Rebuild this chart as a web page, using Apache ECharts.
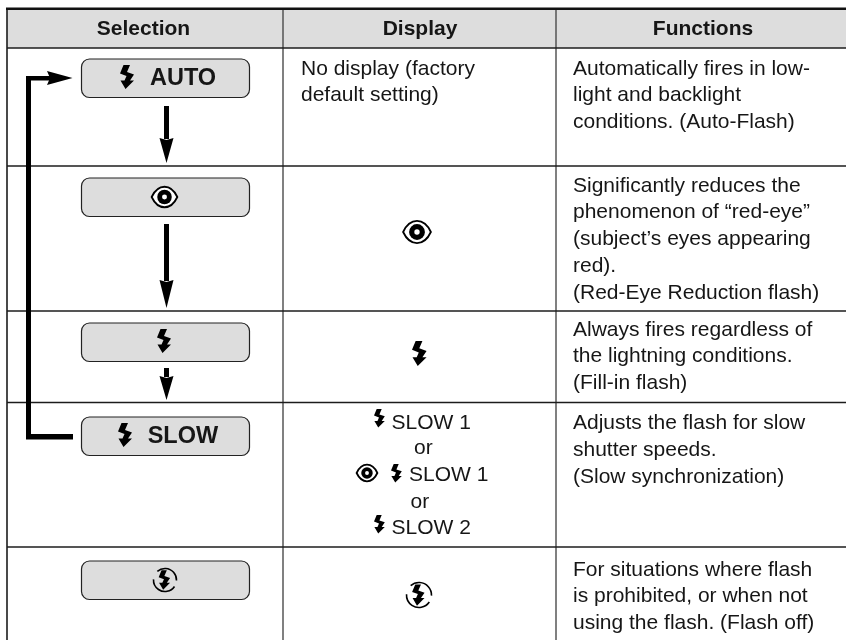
<!DOCTYPE html>
<html><head><meta charset="utf-8">
<style>html,body{margin:0;padding:0;background:#fff}#c{width:846px;height:640px}</style>
<script src="https://cdn.jsdelivr.net/npm/echarts@6/dist/echarts.min.js"></script>
</head><body><div id="c"></div>
<script>
// ---- content ----
const headers = ['Selection', 'Display', 'Functions'];
const selectionLabels = ['AUTO', '', '', 'SLOW', ''];
const displayText = [['No display (factory', 'default setting)'], ['or'], ['or'], ['SLOW 1'], ['SLOW 1'], ['SLOW 2']];
const functionLines = [
  ['Automatically fires in low-', 'light and backlight', 'conditions. (Auto-Flash)'],
  ['Significantly reduces the', 'phenomenon of \u201cred-eye\u201d', '(subject\u2019s eyes appearing', 'red).', '(Red-Eye Reduction flash)'],
  ['Always fires regardless of', 'the lightning conditions.', '(Fill-in flash)'],
  ['Adjusts the flash for slow', 'shutter speeds.', '(Slow synchronization)'],
  ['For situations where flash', 'is prohibited, or when not', 'using the flash. (Flash off)']
];
// ---- table layout, in axis units ----
const rowLines = [48, 166, 311, 402.5, 547];
const colLines = [7, 283, 556];
const buttonTops = [59, 178, 323, 417, 561];
const functionBaselines = [[75, 101.5, 128.5], [192, 218.5, 245, 272, 299], [336, 362.5, 389], [429.5, 456, 483], [576, 602.5, 629]];
// icon outlines
const boltOutline = [[3.5,0],[10,0],[7,7],[14,9.5],[10,15.5],[14,15.5],[5.5,24],[0.5,15.5],[4.5,15.5],[6.5,11],[0,8.5]];

const marks = [];
const TXT = '#161616', LINE = '#1c1c1c', GREY = '#dddddd';
const FONT = '"Liberation Sans", Arial, sans-serif';
function text(t, x, base, size, bold, align) { marks.push({k:'text', t, x, y:base-size*0.295, size, bold, align:align||'left'}); }
function poly(points, fill) { marks.push({k:'poly', points, fill}); }
function bolt(x, y, h) { const s = h/24; poly(boltOutline.map(p => [x+p[0]*s, y+p[1]*s]), '#000'); }
function rect(x, y, w, h, fill, r, stroke, sw) { marks.push({k:'rect', x, y, w, h, fill, r:r||0, stroke, sw:sw||0}); }
function line(a, b, c, d, color, w) { marks.push({k:'line', a, b, c, d, color, w}); }
function eye(cx, cy, w) {
  const h = w*0.56;
  marks.push({k:'lens', cx, cy, w, h});
  marks.push({k:'circle', cx, cy, r:w*0.22, fill:'#000'});
  marks.push({k:'circle', cx, cy, r:w*0.075, fill:'#fff'});
}
function flashOff(cx, cy, r) {
  marks.push({k:'arc', cx, cy, r, a0:-2.3, a1:0.05});
  marks.push({k:'arc', cx, cy, r, a0:0.6, a1:3.2});
  bolt(cx-r*0.55, cy-r*0.85, r*1.7);
}
function downArrow(x, top, headTop, tip) {
  rect(x-2.5, top, 5, headTop-top+1, '#000');
  poly([[x-7,headTop],[x,headTop+2],[x+7,headTop],[x,tip]], '#000');
}

// header band and table rules
rect(7, 9, 839, 39, GREY);
line(colLines[1], 9, colLines[1], 640, '#4a4a4a', 1.4);
line(colLines[2], 9, colLines[2], 640, '#4a4a4a', 1.4);
line(colLines[0], 9, colLines[0], 640, LINE, 1.6);
line(6, 8.7, 846, 8.7, '#111', 2.4);
rowLines.forEach(y => line(7, y, 846, y, LINE, 1.4));
// header text
const headerCentres = [143.5, 420, 703];
headers.forEach((h,i) => text(h, headerCentres[i], 35, 21, true, 'center'));
// buttons
buttonTops.forEach(y => rect(81.5, y, 168, 38.5, GREY, 8, '#222', 1.2));
text(selectionLabels[0], 150, 85, 23.5, true);
text(selectionLabels[3], 147.7, 443, 23.5, true);
bolt(120, 65, 24);
eye(164.5, 197, 33);
bolt(157, 329, 24);
bolt(118, 423, 24);
flashOff(165, 580, 11.5);
// flow arrows
downArrow(166.5, 106, 138, 163);
downArrow(166.5, 224, 280, 308);
downArrow(166.5, 368, 376, 400);
rect(26, 76, 5, 363, '#000');
rect(26, 76, 26, 4.5, '#000');
poly([[47,71],[50,78],[47,85],[72.5,78]], '#000');
rect(26, 434, 47, 5.5, '#000');
// display column
text(displayText[0][0], 301, 75, 21, false);
text(displayText[0][1], 301, 101.5, 21, false);
eye(417, 232, 36);
bolt(412, 341, 25);
bolt(374, 409, 18.5);
text(displayText[3][0], 391.5, 429, 21, false);
text(displayText[1][0], 414, 454, 21, false);
eye(367, 473, 26);
bolt(391, 464, 18.5);
text(displayText[4][0], 409, 481.5, 21, false);
text(displayText[2][0], 410.5, 508, 21, false);
bolt(374, 515, 18.5);
text(displayText[5][0], 391.5, 534, 21, false);
flashOff(419, 595, 12.5);
// functions column
functionLines.forEach((ls,i) => ls.forEach((l,j) => text(l, 573, functionBaselines[i][j], 21, false)));

function renderItem(params, api) {
  const m = marks[api.value(0)];
  const px = (x, y) => api.coord([x, y]);
  if (m.k === 'text') {
    const p = px(m.x, m.y);
    return {type:'text', style:{text:m.t, x:p[0], y:p[1], fill:TXT, textAlign:m.align, textVerticalAlign:'middle',
      font:(m.bold?'bold ':'')+m.size+'px '+FONT}};
  }
  if (m.k === 'poly') return {type:'polygon', shape:{points:m.points.map(p => px(p[0], p[1]))}, style:{fill:m.fill}};
  if (m.k === 'rect') {
    const p = px(m.x, m.y), q = px(m.x+m.w, m.y+m.h);
    return {type:'rect', shape:{x:p[0], y:p[1], width:q[0]-p[0], height:q[1]-p[1], r:m.r},
      style:{fill:m.fill, stroke:m.stroke||null, lineWidth:m.sw}};
  }
  if (m.k === 'line') {
    const p = px(m.a, m.b), q = px(m.c, m.d);
    return {type:'line', shape:{x1:p[0], y1:p[1], x2:q[0], y2:q[1]}, style:{stroke:m.color, lineWidth:m.w}};
  }
  if (m.k === 'circle') {
    const p = px(m.cx, m.cy);
    return {type:'circle', shape:{cx:p[0], cy:p[1], r:m.r}, style:{fill:m.fill}};
  }
  if (m.k === 'arc') {
    const p = px(m.cx, m.cy);
    return {type:'arc', shape:{cx:p[0], cy:p[1], r:m.r, startAngle:m.a0, endAngle:m.a1}, style:{stroke:'#000', lineWidth:1.6, fill:null}};
  }
  if (m.k === 'lens') {
    const L = px(m.cx-m.w/2, m.cy), R = px(m.cx+m.w/2, m.cy), T = m.h;
    const d = `M${L[0]} ${L[1]} C${L[0]+m.w*0.25} ${L[1]-T*0.95} ${R[0]-m.w*0.25} ${R[1]-T*0.95} ${R[0]} ${R[1]} C${R[0]-m.w*0.25} ${R[1]+T*0.95} ${L[0]+m.w*0.25} ${L[1]+T*0.95} ${L[0]} ${L[1]} Z`;
    return {type:'path', shape:{pathData:d, x:L[0], y:L[1]-T/2-1, width:m.w, height:T+2, layout:'center'}, style:{fill:'#fff', stroke:'#000', lineWidth:1.8}};
  }
  return null;
}

const chart = echarts.init(document.getElementById('c'), null, {renderer:'canvas'});
chart.setOption({
  animation:false,
  backgroundColor:'#fff',
  grid:{left:0, right:0, top:0, bottom:0},
  xAxis:{type:'value', min:0, max:846, show:false},
  yAxis:{type:'value', min:0, max:640, inverse:true, show:false},
  tooltip:{show:false},
  series:[{type:'custom', coordinateSystem:'cartesian2d', silent:true, clip:false,
    encode:{x:0, y:1}, renderItem, data:marks.map((_,i) => [i, 0])}]
});
</script></body></html>
